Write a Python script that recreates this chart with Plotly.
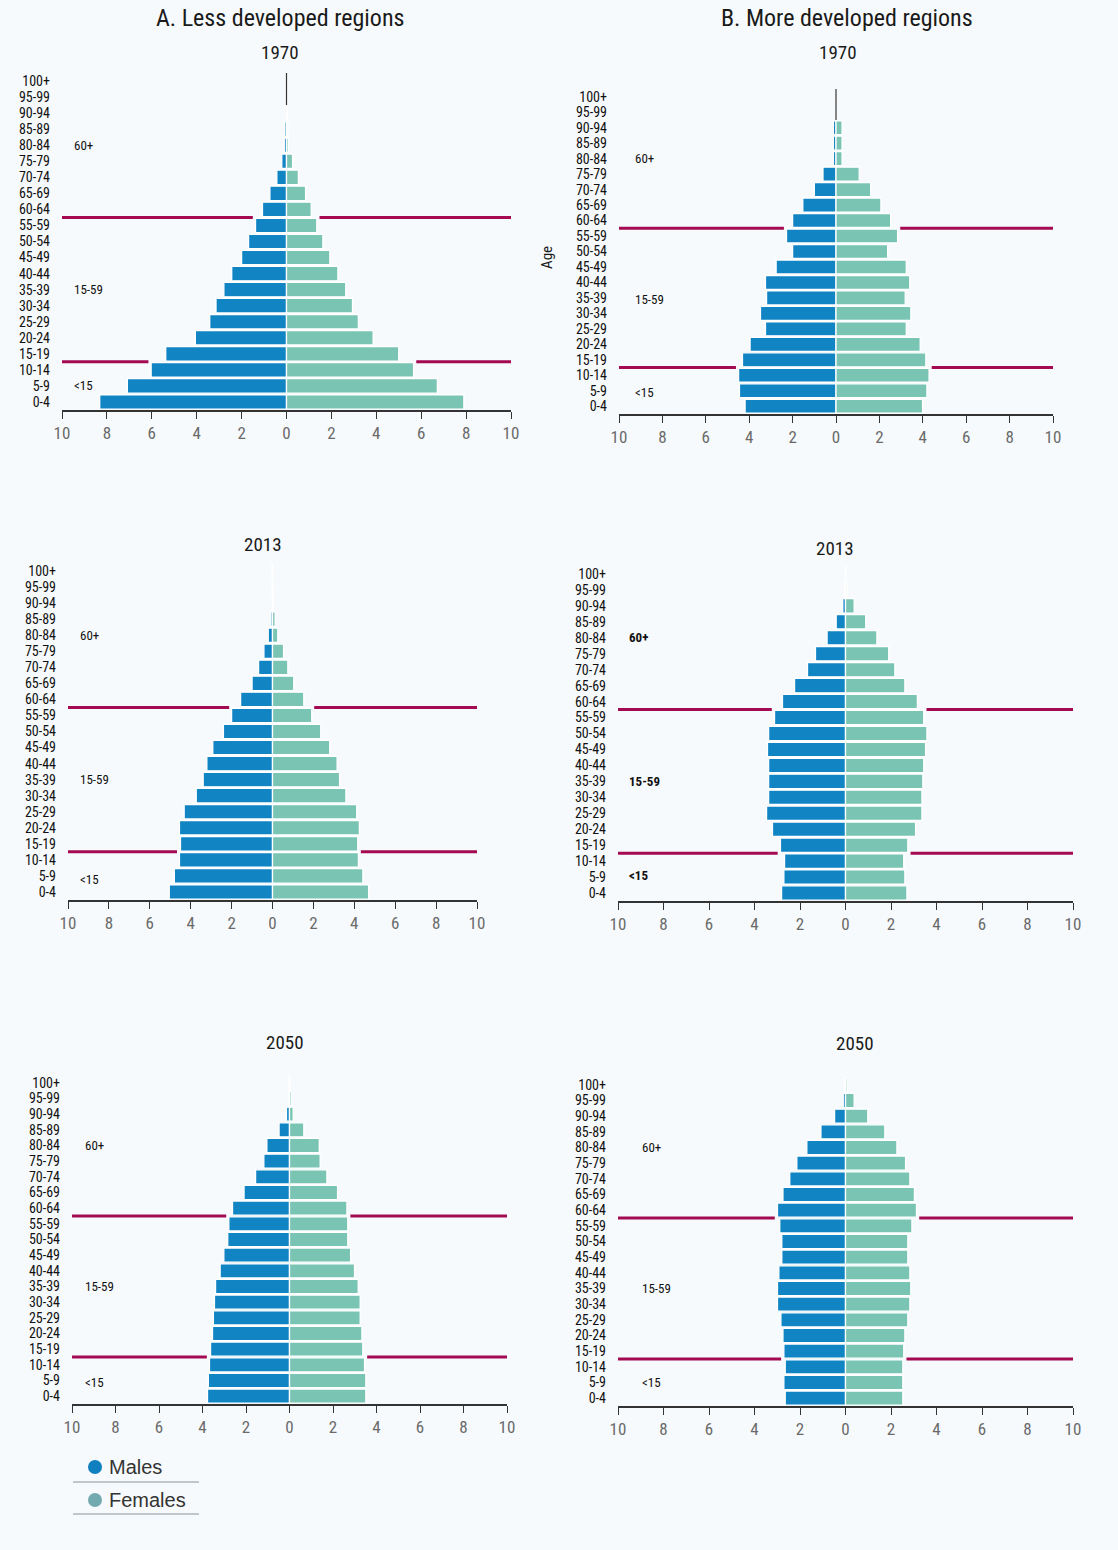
import plotly.graph_objects as go

W, H = 1118, 1550

age_groups = ["0-4", "5-9", "10-14", "15-19", "20-24", "25-29", "30-34", "35-39",
              "40-44", "45-49", "50-54", "55-59", "60-64", "65-69", "70-74", "75-79",
              "80-84", "85-89", "90-94", "95-99", "100+"]

x_ticks = [-10, -8, -6, -4, -2, 0, 2, 4, 6, 8, 10]
x_tick_labels = ["10", "8", "6", "4", "2", "0", "2", "4", "6", "8", "10"]

males_less_1970 = [8.32, 7.09, 6.03, 5.38, 4.06, 3.42, 3.14, 2.79, 2.44, 2.00, 1.69, 1.38,
                   1.07, 0.74, 0.43, 0.21, 0.10, 0.08, 0.06, 0.02, 0.01]
females_less_1970 = [7.90, 6.72, 5.66, 5.00, 3.86, 3.20, 2.94, 2.64, 2.29, 1.93, 1.62, 1.35,
                     1.10, 0.85, 0.53, 0.27, 0.08, 0.06, 0.04, 0.01, 0.005]

males_more_1970 = [4.19, 4.45, 4.49, 4.31, 3.96, 3.25, 3.48, 3.20, 3.25, 2.76, 2.00, 2.28,
                   2.00, 1.53, 1.00, 0.60, 0.12, 0.12, 0.12, 0.0, 0.0]
females_more_1970 = [3.99, 4.19, 4.29, 4.14, 3.88, 3.24, 3.45, 3.19, 3.40, 3.24, 2.38, 2.84,
                     2.52, 2.07, 1.60, 1.07, 0.28, 0.28, 0.28, 0.0, 0.0]

males_less_2013 = [5.05, 4.80, 4.55, 4.50, 4.55, 4.32, 3.73, 3.39, 3.21, 2.92, 2.40, 2.00,
                   1.56, 1.00, 0.68, 0.42, 0.21, 0.08, 0.03, 0.01, 0.01]
females_less_2013 = [4.70, 4.42, 4.20, 4.17, 4.25, 4.12, 3.59, 3.28, 3.16, 2.80, 2.36, 1.92,
                     1.53, 1.04, 0.75, 0.54, 0.26, 0.13, 0.05, 0.01, 0.005]

males_more_2013 = [2.81, 2.71, 2.68, 2.86, 3.21, 3.47, 3.38, 3.38, 3.38, 3.43, 3.38, 3.12,
                   2.77, 2.24, 1.67, 1.32, 0.81, 0.41, 0.12, 0.05, 0.01]
females_more_2013 = [2.70, 2.61, 2.56, 2.74, 3.08, 3.36, 3.36, 3.40, 3.44, 3.52, 3.58, 3.44,
                     3.16, 2.61, 2.17, 1.90, 1.38, 0.89, 0.38, 0.06, 0.01]

males_less_2050 = [3.77, 3.73, 3.68, 3.63, 3.54, 3.50, 3.45, 3.40, 3.19, 3.02, 2.84, 2.79,
                   2.62, 2.09, 1.56, 1.18, 1.04, 0.48, 0.14, 0.02, 0.01]
females_less_2050 = [3.51, 3.51, 3.45, 3.37, 3.33, 3.25, 3.25, 3.16, 2.99, 2.81, 2.68, 2.68,
                     2.64, 2.21, 1.72, 1.41, 1.37, 0.66, 0.17, 0.08, 0.01]

males_more_2050 = [2.65, 2.71, 2.65, 2.71, 2.75, 2.84, 2.99, 2.99, 2.93, 2.80, 2.80, 2.89,
                   2.99, 2.75, 2.45, 2.14, 1.70, 1.08, 0.48, 0.10, 0.04]
females_more_2050 = [2.52, 2.52, 2.52, 2.56, 2.61, 2.74, 2.83, 2.87, 2.83, 2.74, 2.74, 2.92,
                     3.12, 3.03, 2.83, 2.64, 2.26, 1.73, 0.98, 0.38, 0.07]

group_labels = ["60+", "15-59", "<15"]

MALE_COLOR = "#1184c4"
FEMALE_COLOR = "#7ac4b4"
LINE_COLOR = "#a30a52"
BG = "#f7fafc"
FONT = "Liberation Sans Narrow, Roboto Condensed, Arial Narrow, Roboto, sans-serif"


def fx(px):
    return px / W


def fy(py):
    return 1 - py / H


# panel layout (pixel boxes) -- styling only
panels = [
    dict(m=males_less_1970, f=females_less_1970, x=(62, 511), y=(73, 410),
         year="1970", ty=53, tx=280, lx=-9.55, lab_idx=(16, 7, 1), zero=True, bold=False),
    dict(m=males_more_1970, f=females_more_1970, x=(619, 1053), y=(89, 414),
         year="1970", ty=53, tx=838, lx=-9.35, lab_idx=(16, 6.9, 0.9), zero=True, bold=False),
    dict(m=males_less_2013, f=females_less_2013, x=(68, 477), y=(563, 900),
         year="2013", ty=544, tx=263, lx=-9.5, lab_idx=(16, 7, 0.8), zero=False, bold=False),
    dict(m=males_more_2013, f=females_more_2013, x=(618, 1073), y=(566, 901),
         year="2013", ty=548, tx=835, lx=-9.6, lab_idx=(16, 7, 1.1), zero=False, bold=True),
    dict(m=males_less_2050, f=females_less_2050, x=(72, 507), y=(1075, 1404),
         year="2050", ty=1042, tx=285, lx=-9.5, lab_idx=(16, 7, 0.9), zero=False, bold=False),
    dict(m=males_more_2050, f=females_more_2050, x=(618, 1073), y=(1077, 1406),
         year="2050", ty=1043, tx=855, lx=-9.05, lab_idx=(16, 7, 1), zero=False, bold=False),
]

fig = go.Figure()
shapes = []
annotations = []
layout_axes = {}

yidx = list(range(len(age_groups)))
PAD = 0.12

for i, p in enumerate(panels):
    n = "" if i == 0 else str(i + 1)
    xa, ya = "x" + n, "y" + n
    fig.add_trace(go.Bar(
        y=yidx, x=[-v for v in p["m"]], orientation="h", xaxis=xa, yaxis=ya,
        marker=dict(color=MALE_COLOR, line=dict(color="white", width=1.3)),
        name="Males", showlegend=False, hoverinfo="skip"))
    fig.add_trace(go.Bar(
        y=yidx, x=p["f"], orientation="h", xaxis=xa, yaxis=ya,
        marker=dict(color=FEMALE_COLOR, line=dict(color="white", width=1.3)),
        name="Females", showlegend=False, hoverinfo="skip"))

    layout_axes["xaxis" + n] = dict(
        domain=[fx(p["x"][0]), fx(p["x"][1])], anchor=ya, range=[-10, 10],
        tickvals=x_ticks, ticktext=x_tick_labels, ticks="outside", ticklen=7,
        tickcolor="#333", tickwidth=1.2, showline=True, linecolor="#333", linewidth=1.5,
        showgrid=False, zeroline=False, fixedrange=True, automargin=False,
        tickfont=dict(family=FONT, size=17, color="#6a6a6a"))
    layout_axes["yaxis" + n] = dict(
        domain=[fy(p["y"][1]), fy(p["y"][0])], anchor=xa, range=[-0.5, 20.5],
        tickvals=yidx, ticktext=age_groups, showline=False, showgrid=False,
        zeroline=False, ticks="", ticklabelstandoff=11, fixedrange=True, automargin=False,
        tickfont=dict(family=FONT, size=14, color="#111"))

    xr = "x" + n
    yr = "y" + n
    # zero line visible above the oldest (near-empty) age groups
    if p["zero"]:
        shapes.append(dict(type="line", xref=xr, yref=yr, x0=0, x1=0, y0=18.5, y1=20.6,
                           line=dict(color="#333", width=1.2), layer="above"))
    # age-group divider lines (between 10-14/15-19 and 55-59/60-64)
    for lo, hi in ((2, 3), (11, 12)):
        yl = (lo + hi) / 2
        mleft = max(p["m"][lo], p["m"][hi]) + PAD
        fright = max(p["f"][lo], p["f"][hi]) + PAD
        shapes.append(dict(type="line", xref=xr, yref=yr, x0=-10, x1=-mleft, y0=yl, y1=yl,
                           line=dict(color=LINE_COLOR, width=3), layer="above"))
        shapes.append(dict(type="line", xref=xr, yref=yr, x0=fright, x1=10, y0=yl, y1=yl,
                           line=dict(color=LINE_COLOR, width=3), layer="above"))
    # group labels
    for lab, yv in zip(group_labels, p["lab_idx"]):
        txt = lab.replace("<", "&lt;")
        if p["bold"]:
            txt = "<b>%s</b>" % txt
        annotations.append(dict(xref=xr, yref=yr, x=p["lx"], y=yv, text=txt,
                                showarrow=False, xanchor="left", yanchor="middle",
                                font=dict(family=FONT, size=13, color="#111")))
    # year title
    annotations.append(dict(xref="paper", yref="paper", x=fx(p["tx"]), y=fy(p["ty"]),
                            text=p["year"], showarrow=False, xanchor="center", yanchor="middle",
                            font=dict(family=FONT, size=19, color="#1a1a1a")))

# column headers
annotations.append(dict(xref="paper", yref="paper", x=fx(280), y=fy(18),
                        text="A. Less developed regions", showarrow=False,
                        xanchor="center", yanchor="middle",
                        font=dict(family=FONT, size=24, color="#1a1a1a")))
annotations.append(dict(xref="paper", yref="paper", x=fx(847), y=fy(18),
                        text="B. More developed regions", showarrow=False,
                        xanchor="center", yanchor="middle",
                        font=dict(family=FONT, size=24, color="#1a1a1a")))
# Age label
annotations.append(dict(xref="paper", yref="paper", x=fx(547), y=fy(258), text="Age",
                        showarrow=False, textangle=-90, xanchor="center", yanchor="middle",
                        font=dict(family=FONT, size=15, color="#1a1a1a")))

# legend (manual)
legend_items = [("Males", "#0f7fc0", 1467, 1482), ("Females", "#72aab0", 1500, 1514)]
for name, col, ycen, ysep in legend_items:
    shapes.append(dict(type="circle", xref="paper", yref="paper",
                       xsizemode="pixel", ysizemode="pixel",
                       xanchor=fx(95), yanchor=fy(ycen), x0=-7, x1=7, y0=-7, y1=7,
                       fillcolor=col, line=dict(width=0)))
    annotations.append(dict(xref="paper", yref="paper", x=fx(107), y=fy(ycen), text=name,
                            showarrow=False, xanchor="left", yanchor="middle",
                            font=dict(family="Liberation Sans, Arial, sans-serif", size=20,
                                      color="#333")))
    shapes.append(dict(type="line", xref="paper", yref="paper", x0=fx(73), x1=fx(199),
                       y0=fy(ysep), y1=fy(ysep), line=dict(color="#8a9299", width=1.2)))

fig.update_layout(
    width=W, height=H, margin=dict(l=0, r=0, t=0, b=0, autoexpand=False),
    paper_bgcolor=BG, plot_bgcolor=BG, barmode="relative", bargap=0.1,
    showlegend=False, shapes=shapes, annotations=annotations,
    font=dict(family=FONT), **layout_axes)

fig.write_html(
    "out.html",
    config={"displayModeBar": False},
    post_script="document.body.style.margin='0';document.body.style.background='%s';" % BG)
